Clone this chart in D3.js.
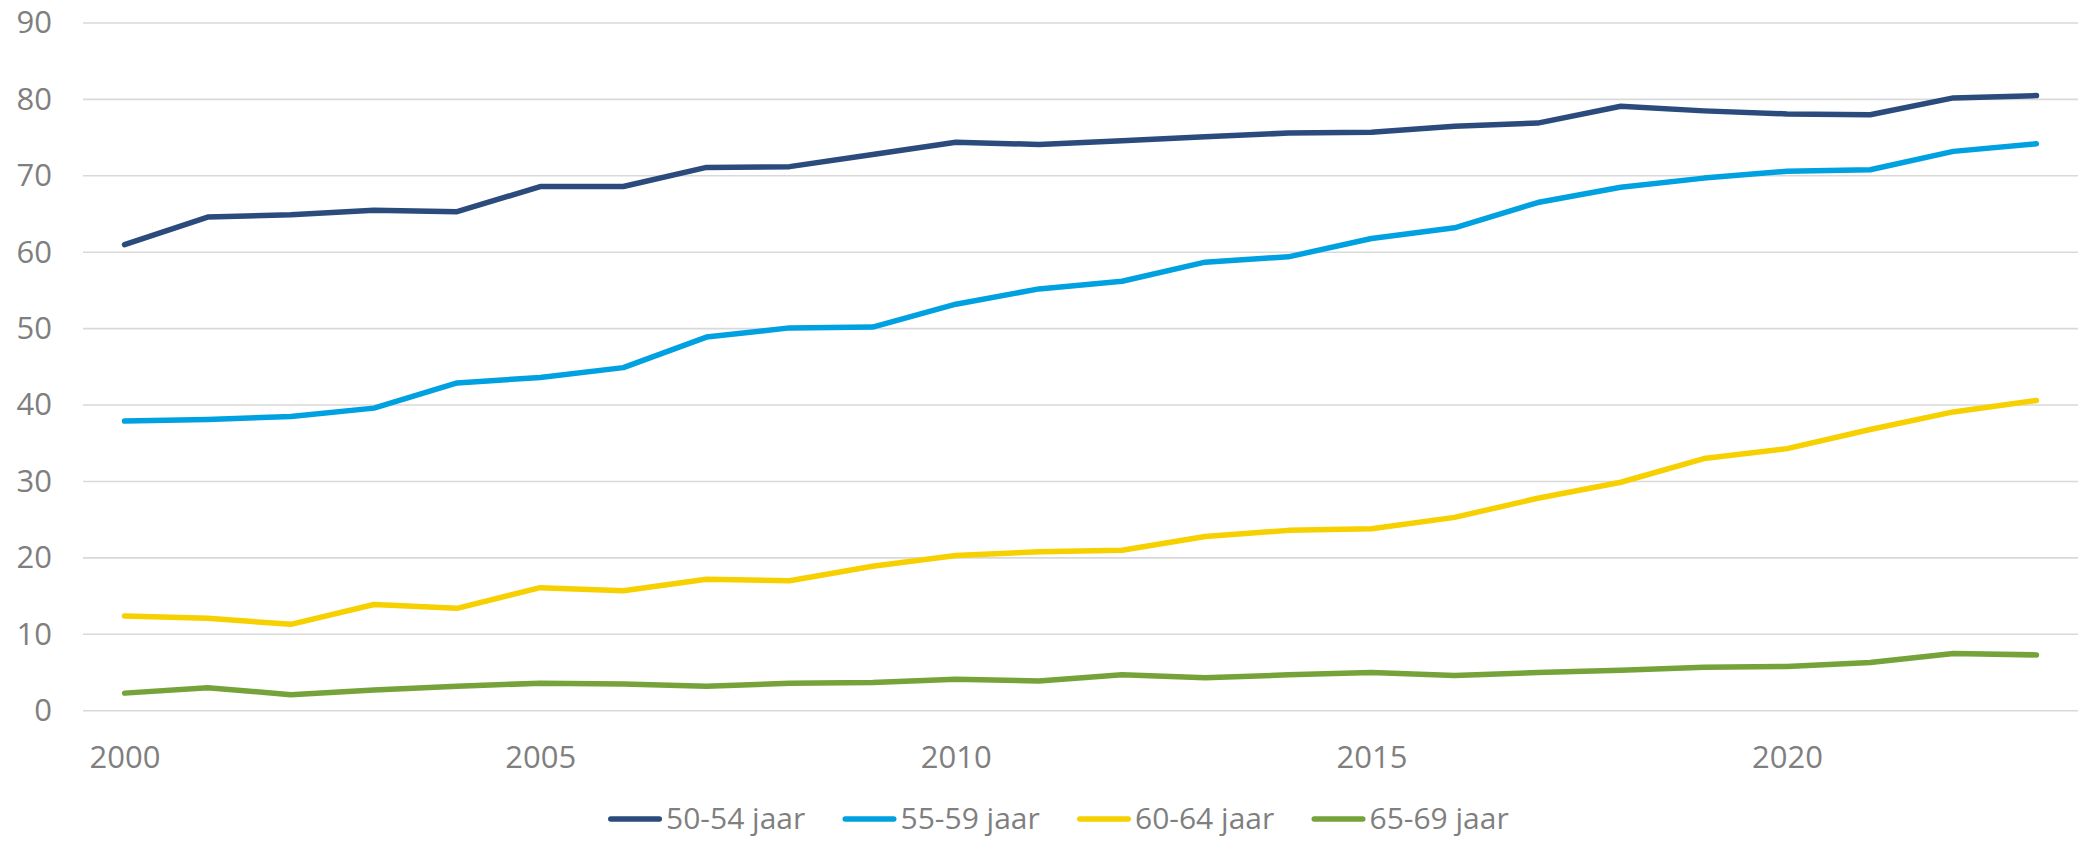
<!DOCTYPE html>
<html lang="nl">
<head>
<meta charset="utf-8">
<title>Arbeidsparticipatie naar leeftijd</title>
<script src="https://d3js.org/d3.v7.min.js"></script>
<style>
    body { margin: 0; background: #fff; }
    #chart { width: 2080px; height: 841px; }
    text { font-family: "Open Sans", "Noto Sans", sans-serif; fill: #7f7f7f; }
</style>
</head>
<body>
<div id="chart"></div>
<script>
// data
const years = d3.range(2000, 2024);
const yTicks = [0, 10, 20, 30, 40, 50, 60, 70, 80, 90];
const xTickYears = [2000, 2005, 2010, 2015, 2020];

const series5054 = [61.0, 64.6, 64.9, 65.5, 65.3, 68.6, 68.6, 71.1, 71.2, 72.8, 74.4, 74.1,
                    74.6, 75.1, 75.6, 75.7, 76.5, 76.9, 79.1, 78.5, 78.1, 78.0, 80.2, 80.5];
const series5559 = [37.9, 38.1, 38.5, 39.6, 42.9, 43.6, 44.9, 48.9, 50.1, 50.2, 53.2, 55.2,
                    56.2, 58.7, 59.4, 61.8, 63.2, 66.5, 68.5, 69.7, 70.6, 70.8, 73.2, 74.2];
const series6064 = [12.4, 12.1, 11.3, 13.9, 13.4, 16.1, 15.7, 17.2, 17.0, 18.9, 20.3, 20.8,
                    21.0, 22.8, 23.6, 23.8, 25.3, 27.8, 29.9, 33.0, 34.3, 36.8, 39.1, 40.6];
const series6569 = [2.3, 3.0, 2.1, 2.7, 3.2, 3.6, 3.5, 3.2, 3.6, 3.7, 4.1, 3.9,
                    4.7, 4.3, 4.7, 5.0, 4.6, 5.0, 5.3, 5.7, 5.8, 6.3, 7.5, 7.3];

const seriesNames = ["50-54 jaar", "55-59 jaar", "60-64 jaar", "65-69 jaar"];
const seriesColors = ["#2b4b7d", "#00a1e0", "#f7d000", "#76a23a"];
const seriesValues = [series5054, series5559, series6064, series6569];

const width = 2080, height = 841;
const plot = {left: 83, right: 2078, top: 23, bottom: 710.7};

const svg = d3.select("#chart").append("svg")
    .attr("width", width)
    .attr("height", height);

const x = d3.scalePoint()
    .domain(years)
    .range([plot.left, plot.right])
    .padding(0.5);

const y = d3.scaleLinear()
    .domain([0, 90])
    .range([plot.bottom, plot.top]);

// gridlines
svg.append("g")
    .selectAll("line")
    .data(yTicks)
    .join("line")
    .attr("x1", plot.left)
    .attr("x2", plot.right)
    .attr("y1", d => y(d))
    .attr("y2", d => y(d))
    .attr("stroke", "#d9d9d9")
    .attr("stroke-width", 1.6);

// y axis labels
const yAxis = svg.append("g")
    .attr("transform", "translate(" + (plot.left - 31) + ",0)")
    .call(d3.axisLeft(y).tickValues(yTicks).tickSize(0).tickPadding(0));
yAxis.select(".domain").remove();
yAxis.selectAll("text")
    .attr("font-size", 31)
    .attr("fill", "#7f7f7f")
    .attr("font-family", "'Open Sans', 'Noto Sans', sans-serif");

// x axis labels
const xAxis = svg.append("g")
    .attr("transform", "translate(0," + plot.bottom + ")")
    .call(d3.axisBottom(x).tickValues(xTickYears).tickSize(0).tickPadding(0));
xAxis.select(".domain").remove();
xAxis.selectAll("text")
    .attr("dy", null)
    .attr("y", 57)
    .attr("font-size", 31)
    .attr("fill", "#7f7f7f")
    .attr("font-family", "'Open Sans', 'Noto Sans', sans-serif");

// lines
const line = d3.line()
    .x((d, i) => x(years[i]))
    .y(d => y(d));

svg.append("g")
    .selectAll("path")
    .data(seriesValues)
    .join("path")
    .attr("d", d => line(d))
    .attr("fill", "none")
    .attr("stroke", (d, i) => seriesColors[i])
    .attr("stroke-width", 5.5)
    .attr("stroke-linejoin", "round")
    .attr("stroke-linecap", "round");

// legend
const legendY = 819;
const legend = svg.append("g");
const items = legend.selectAll("g")
    .data(seriesNames)
    .join("g");

items.append("line")
    .attr("x1", 2.75)
    .attr("x2", 51.25)
    .attr("y1", legendY)
    .attr("y2", legendY)
    .attr("stroke", (d, i) => seriesColors[i])
    .attr("stroke-width", 5.5)
    .attr("stroke-linecap", "round");

items.append("text")
    .attr("x", 58)
    .attr("y", legendY + 10)
    .attr("font-size", 30)
    .text(d => d);

let offset = 0;
const gap = 40;
items.each(function() {
    const w = this.getBBox().width;
    d3.select(this).attr("transform", "translate(" + offset + ",0)");
    offset += w + gap;
});
const total = offset - gap;
legend.attr("transform", "translate(" + (1057 - total / 2) + ",0)");
</script>
</body>
</html>
